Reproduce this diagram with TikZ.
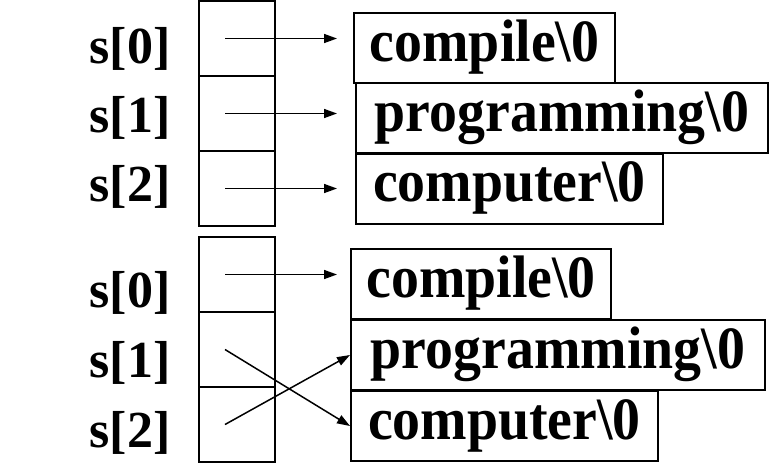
\documentclass[tikz,border=0pt]{standalone}
\usepackage{fontspec}
\setmainfont{Liberation Serif}
\newfontfamily\strfont{Liberation Serif}[FakeStretch=0.93]
\usetikzlibrary{arrows.meta,calc}
\begin{document}
\begin{tikzpicture}[x=1pt,y=-1pt,
  cell/.style={draw,line width=2pt,minimum width=76pt,minimum height=75pt,inner sep=0pt},
  str/.style={draw,line width=2pt,anchor=west,font=\strfont\fontsize{60}{68}\selectfont\bfseries,inner xsep=15pt,inner ysep=9pt,text height=39pt,text depth=13pt},
  lab/.style={anchor=base,font=\fontsize{52}{60}\selectfont\bfseries},
  ptr/.style={line width=1.5pt,-{Triangle[length=13pt,width=9pt]}}]
\useasboundingbox (0,0) rectangle (776,464);
% top group
\node[cell] (a0) at (237,38.5) {};
\node[cell] (a1) at (237,113.5) {};
\node[cell] (a2) at (237,188.5) {};
\node[str,minimum width=261pt] (p0) at (353,48) {compile\textbackslash 0};
\node[str,minimum width=412pt] (p1) at (355,118) {programming\textbackslash 0};
\node[str,minimum width=307pt] (p2) at (355,188.5) {computer\textbackslash 0};
\node[lab] (la0) at (130,63) {s[0]};
\node[lab] (la1) at (130,132) {s[1]};
\node[lab] (la2) at (130,201) {s[2]};
% bottom group
\node[cell] (b0) at (237,274.5) {};
\node[cell] (b1) at (237,349.5) {};
\node[cell] (b2) at (237,424.5) {};
\node[str,minimum width=260pt] (q0) at (350,284) {compile\textbackslash 0};
\node[str,minimum width=414pt] (q1) at (350,355) {programming\textbackslash 0};
\node[str,minimum width=307pt] (q2) at (350,426) {computer\textbackslash 0};
\node[lab] (lb0) at (130,307) {s[0]};
\node[lab] (lb1) at (130,377) {s[1]};
\node[lab] (lb2) at (130,447) {s[2]};
% pointer starts
\coordinate (sa0) at ($(a0.center)+(-12,0)$);
\coordinate (sa1) at ($(a1.center)+(-12,0)$);
\coordinate (sa2) at ($(a2.center)+(-12,0)$);
\coordinate (sb0) at ($(b0.center)+(-12,0)$);
\coordinate (sb1) at ($(b1.center)+(-12,0)$);
\coordinate (sb2) at ($(b2.center)+(-12,0)$);
% pointer ends
\coordinate (ea0) at ($(p0.west)+(-16,0)$);
\coordinate (ea1) at ($(p1.west)+(-18,0)$);
\coordinate (ea2) at ($(p2.west)+(-18,0)$);
\coordinate (eb0) at ($(q0.west)+(-13,0)$);
\draw[ptr] (sa0) -- (sa0 -| ea0);
\draw[ptr] (sa1) -- (sa1 -| ea1);
\draw[ptr] (sa2) -- (sa2 -| ea2);
\draw[ptr] (sb0) -- (sb0 -| eb0);
\draw[ptr] (sb1) -- (q2.west);
\draw[ptr] (sb2) -- (q1.west);
\end{tikzpicture}
\end{document}
